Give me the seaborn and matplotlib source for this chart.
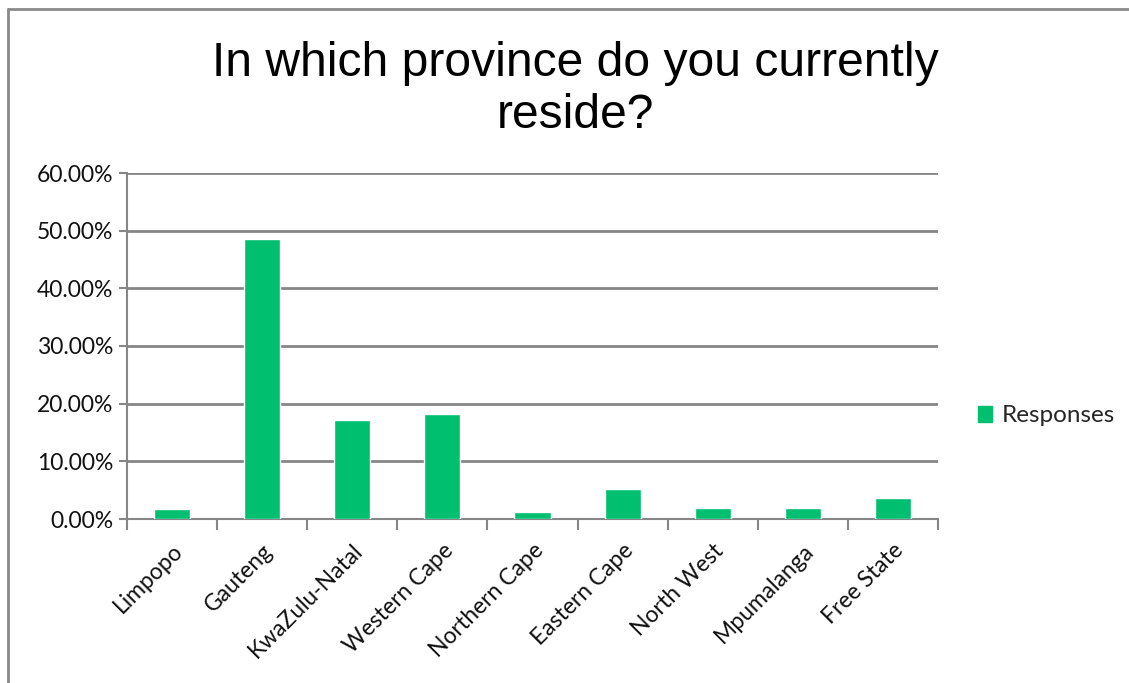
import matplotlib
matplotlib.use("Agg")
import matplotlib.pyplot as plt
import seaborn as sns
import pandas as pd
from matplotlib.ticker import FuncFormatter, FixedLocator
from matplotlib.lines import Line2D
from matplotlib.patches import Patch

provinces = ["Limpopo", "Gauteng", "KwaZulu-Natal", "Western Cape", "Northern Cape",
             "Eastern Cape", "North West", "Mpumalanga", "Free State"]
responses = [1.65, 48.6, 17.1, 18.2, 1.25, 5.25, 1.9, 1.9, 3.7]
yticks = [0, 10, 20, 30, 40, 50, 60]
title = "In which province do you currently\nreside?"
series_name = "Responses"

sns.set_theme(style="white")
plt.rcParams['font.family'] = ['Lato', 'DejaVu Sans']

GREEN = "#00BF6F"
GRID = "#868686"

df = pd.DataFrame({"Province": provinces, "Value": responses})

fig = plt.figure(figsize=(11.29, 6.83), dpi=100)
ax = fig.add_axes([127/1129, 1-519/683, (938-127)/1129, (519-173)/683])

sns.barplot(data=df, x="Province", y="Value", color=GREEN, width=0.4,
            saturation=1, ax=ax, zorder=3)

ax.set_ylim(0, 60)
ax.set_xlim(-0.5, len(provinces) - 0.5)
ax.yaxis.set_major_locator(FixedLocator(yticks))
ax.yaxis.set_major_formatter(FuncFormatter(lambda v, p: f"{v:.2f}%"))
ax.grid(axis="y", color=GRID, linewidth=2, zorder=0)
ax.grid(axis="x", visible=False)
ax.set_xlabel("")
ax.set_ylabel("")

for s in ["top", "right"]:
    ax.spines[s].set_visible(False)
for s in ["left", "bottom"]:
    ax.spines[s].set_visible(True)
    ax.spines[s].set_color(GRID)
    ax.spines[s].set_linewidth(1.5)

# y ticks
ax.tick_params(axis="y", which="major", left=True, length=6, width=1.5, color=GRID,
               labelsize=16.5, pad=4, labelcolor="#111111")
# x: labels at centres, tick marks at boundaries
ax.tick_params(axis="x", which="major", bottom=False, length=0, labelsize=16.5,
               labelcolor="#111111", pad=15)
ax.set_xticks(range(len(provinces)))
ax.set_xticklabels(provinces, rotation=45, ha="right", rotation_mode="anchor")
ax.set_xticks([i - 0.5 for i in range(len(provinces) + 1)], minor=True)
ax.tick_params(axis="x", which="minor", bottom=True, length=8, width=1.5, color=GRID)

fig.text((212+938)/2/1129, 1-90/683, title, ha="center", va="center",
         fontsize=34.6, family=["Liberation Sans", "DejaVu Sans"], color="#000000",
         linespacing=1.2)

handle = Patch(facecolor=GREEN, edgecolor=GREEN)
fig.legend([handle], [series_name], loc="center left",
           bbox_to_anchor=(956/1129, 1-416/683), frameon=False, fontsize=17.5,
           handlelength=0.6, handleheight=0.6, handletextpad=0.4)

# outer chart border (left and top)
fig.add_artist(Line2D([8/1129, 8/1129], [0, 1-9/683], transform=fig.transFigure,
                      color="#8a8a8a", linewidth=2))
fig.add_artist(Line2D([8/1129, 1], [1-9/683, 1-9/683], transform=fig.transFigure,
                      color="#8a8a8a", linewidth=2))

fig.savefig("out.png", dpi=100, facecolor="white")
